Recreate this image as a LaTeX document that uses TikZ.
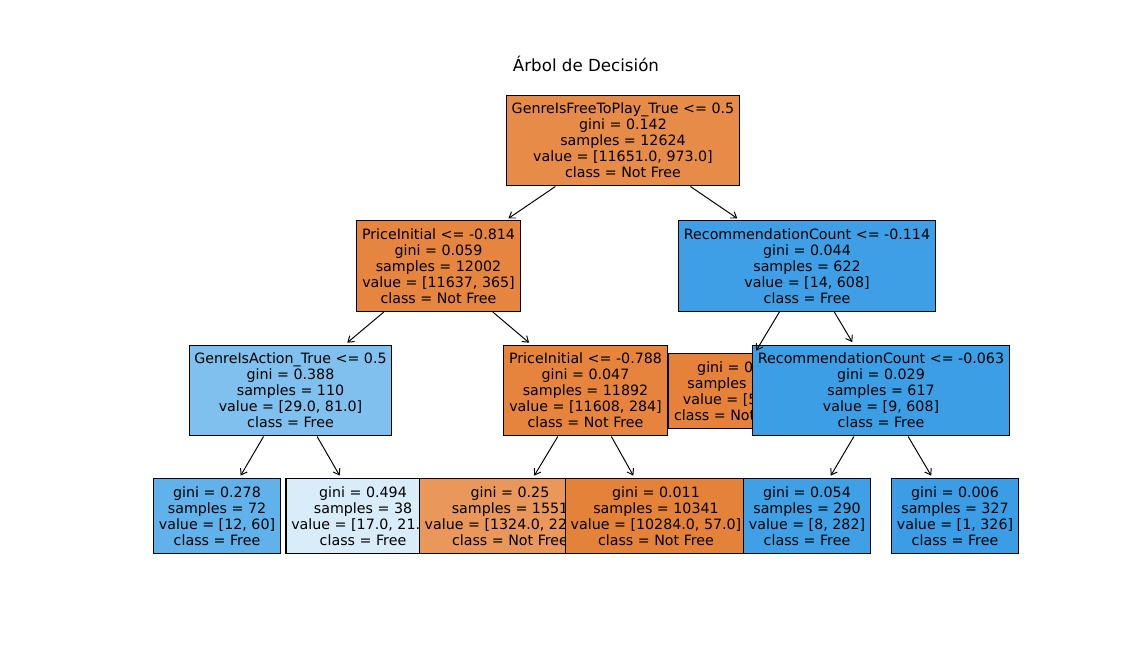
\documentclass[tikz,border=0pt]{standalone}
\usepackage{fontspec}
\setmainfont{DejaVu Sans}
\usetikzlibrary{arrows.meta}

% Colores de los nodos (Not Free = naranja, Free = azul)
\definecolor{nodoA}{RGB}{231,139,73}
\definecolor{nodoB}{RGB}{230,133,63}
\definecolor{nodoC}{RGB}{128,192,238}
\definecolor{nodoD}{RGB}{97,177,234}
\definecolor{nodoE}{RGB}{217,236,250}
\definecolor{nodoF}{RGB}{230,132,62}
\definecolor{nodoG}{RGB}{233,151,91}
\definecolor{nodoH}{RGB}{229,130,58}
\definecolor{nodoI}{RGB}{62,159,230}
\definecolor{nodoJ}{RGB}{229,129,57}
\definecolor{nodoK}{RGB}{60,158,229}
\definecolor{nodoL}{RGB}{63,160,230}
\definecolor{nodoM}{RGB}{58,157,229}

\tikzset{
  treenode/.style={draw=black, line width=0.8pt, inner xsep=3.8pt, inner ysep=5.7pt,
    align=center, font=\fontsize{10.25}{11.52}\selectfont},
  treeedge/.style={-{Straight Barb[length=4pt,width=5.5pt]}, line width=0.7pt, shorten >=2pt},
}

\begin{document}
\begin{tikzpicture}[x=0.72pt, y=-0.72pt]
				\useasboundingbox (0,0) rectangle (1143,650);
				% Titulo
				\node[font=\fontsize{12}{14}\selectfont] (titulo) at (586,64) {Árbol de Decisión};
				
				% Nodos del arbol (en orden de dibujo)
				\node[treenode, fill=nodoA] (raiz) at (623,140.5) {GenreIsFreeToPlay\_True <= 0.5\\gini = 0.142\\samples = 12624\\value = [11651.0, 973.0]\\class = Not Free};
				\node[treenode, fill=nodoB] (precioA) at (438.5,266) {PriceInitial <= -0.814\\gini = 0.059\\samples = 12002\\value = [11637, 365]\\class = Not Free};
				\node[treenode, fill=nodoC] (accion) at (290.5,390.5) {GenreIsAction\_True <= 0.5\\gini = 0.388\\samples = 110\\value = [29.0, 81.0]\\class = Free};
				\node[treenode, fill=nodoD] (hojaA) at (217,516) {gini = 0.278\\samples = 72\\value = [12, 60]\\class = Free};
				\node[treenode, fill=nodoE] (hojaB) at (363,516) {gini = 0.494\\samples = 38\\value = [17.0, 21.0]\\class = Free};
				\node[treenode, fill=nodoF] (precioB) at (585.5,390.5) {PriceInitial <= -0.788\\gini = 0.047\\samples = 11892\\value = [11608, 284]\\class = Not Free};
				\node[treenode, fill=nodoG] (hojaC) at (510,516) {gini = 0.25\\samples = 1551\\value = [1324.0, 227.0]\\class = Not Free};
				\node[treenode, fill=nodoH] (hojaD) at (656,516) {gini = 0.011\\samples = 10341\\value = [10284.0, 57.0]\\class = Not Free};
				\node[treenode, fill=nodoI] (recomA) at (807,266) {RecommendationCount <= -0.114\\gini = 0.044\\samples = 622\\value = [14, 608]\\class = Free};
				\node[treenode, fill=nodoJ] (hojaE) at (732,391) {gini = 0.0\\samples = 5\\value = [5, 0]\\class = Not Free};
				\node[treenode, fill=nodoK] (recomB) at (881,390.5) {RecommendationCount <= -0.063\\gini = 0.029\\samples = 617\\value = [9, 608]\\class = Free};
				\node[treenode, fill=nodoL] (hojaF) at (807,516) {gini = 0.054\\samples = 290\\value = [8, 282]\\class = Free};
				\node[treenode, fill=nodoM] (hojaG) at (955,516) {gini = 0.006\\samples = 327\\value = [1, 326]\\class = Free};
				
				% Aristas
				\draw[treeedge] (raiz) -- (precioA);
				\draw[treeedge] (raiz) -- (recomA);
				\draw[treeedge] (precioA) -- (accion);
				\draw[treeedge] (precioA) -- (precioB);
				\draw[treeedge] (accion) -- (hojaA);
				\draw[treeedge] (accion) -- (hojaB);
				\draw[treeedge] (precioB) -- (hojaC);
				\draw[treeedge] (precioB) -- (hojaD);
				\draw[treeedge] (recomA) -- (hojaE);
				\draw[treeedge] (recomA) -- (recomB);
				\draw[treeedge] (recomB) -- (hojaF);
				\draw[treeedge] (recomB) -- (hojaG);
			\end{tikzpicture}
\end{document}
